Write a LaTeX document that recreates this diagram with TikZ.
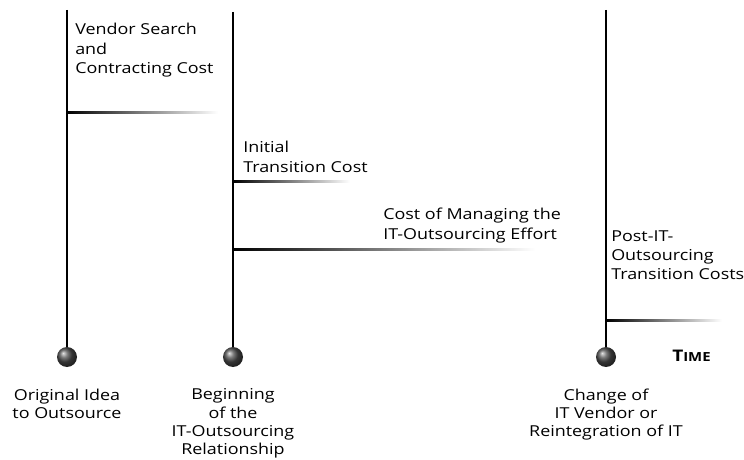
\documentclass[tikz,border=0pt]{standalone}
\usepackage{fontspec}
\setmainfont{Open Sans}[FakeStretch=1.19]
\usetikzlibrary{positioning}

\begin{document}
\begin{tikzpicture}[x=0.75pt,y=-0.75pt,
    font=\fontsize{11.3}{14.6}\selectfont,
    event/.style={circle,minimum size=15pt,inner sep=0pt,ball color=black!70},
    stem/.style={line width=1.6pt},
    fade/.style={left color=black,right color=white,draw=none},
    costlabel/.style={align=left,anchor=north west,inner sep=0pt},
    eventlabel/.style={align=center,anchor=north,inner sep=0pt,font=\fontsize{11.3}{13.6}\selectfont}]

    \useasboundingbox (0,0) rectangle (744,460);

    % the three points on the time axis
    \node[event] (idea) at (67,357) {};
    \node[event] (begin) at (233,357) {};
    \node[event] (change) at (606,357) {};

    \coordinate (ideatop) at (67,10);
    \coordinate (begintop) at (233,12);
    \coordinate (changetop) at (606,10);

    \draw[stem] (ideatop) -- (idea);
    \draw[stem] (begintop) -- (begin);
    \draw[stem] (changetop) -- (change);

    % cost bars fading out to the right
    \shade[fade] (67,112) rectangle (218,114);
    \shade[fade] (233,181) rectangle (350,183);
    \shade[fade] (233,249) rectangle (535,251);
    \shade[fade] (606,319) rectangle (722,321);

    % cost labels
    \node[costlabel] (search) at (75,23) {Vendor Search\\and\\Contracting Cost};
    \node[costlabel] (transition) at (243,141) {Initial\\Transition Cost};
    \node[costlabel] (managing) at (383,208) {Cost of Managing the\\IT-Outsourcing Effort};
    \node[costlabel] (post) at (611,230) {Post-IT-\\Outsourcing\\Transition Costs};

    % event labels
    \node[eventlabel] (idealabel) [below=16pt of idea] {Original Idea\\to Outsource};
    \node[eventlabel] (beginlabel) [below=16pt of begin] {Beginning\\of the\\IT-Outsourcing\\Relationship};
    \node[eventlabel] (changelabel) [below=16pt of change] {Change of\\IT Vendor or\\Reintegration of IT};

    \node[anchor=west,inner sep=0pt,font=\bfseries\fontsize{12}{14}\selectfont] (time) at (672,356) {T\fontsize{9.4}{12}\selectfont IME};
\end{tikzpicture}
\end{document}
